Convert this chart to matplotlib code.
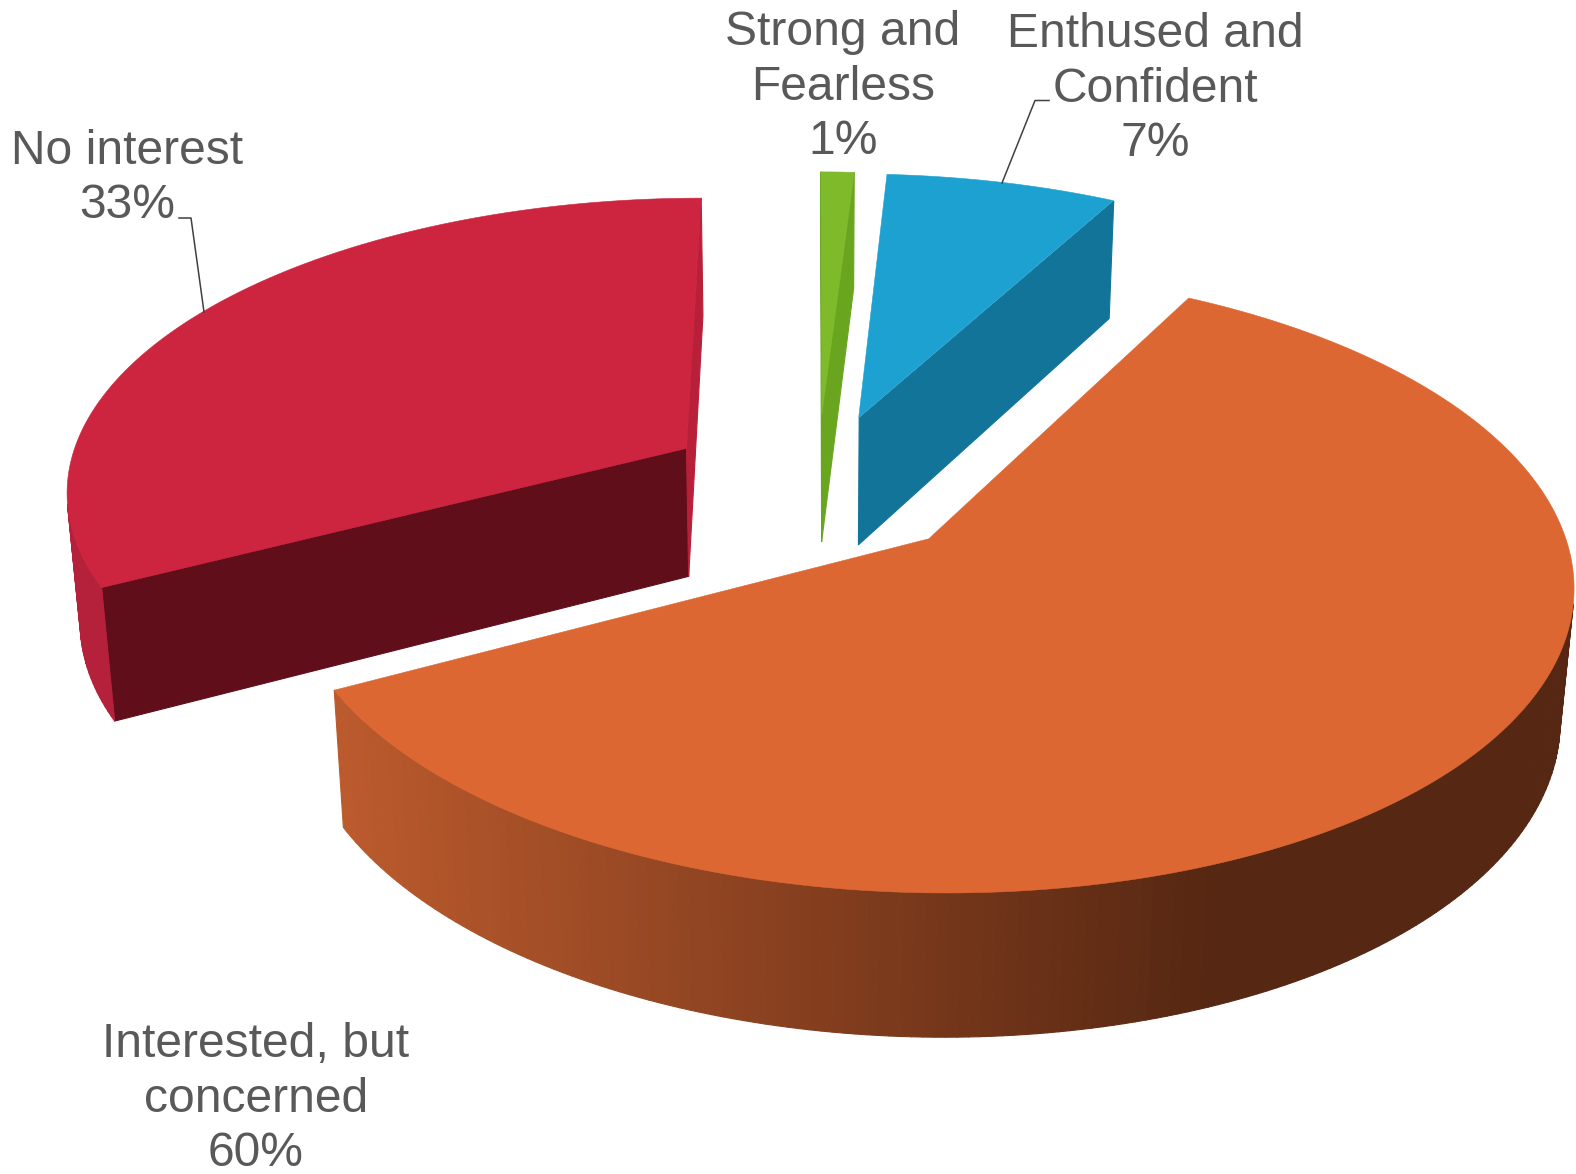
import numpy as np
import matplotlib
matplotlib.use("Agg")
import matplotlib.pyplot as plt
from matplotlib.collections import PolyCollection
from matplotlib.colors import to_rgb

# Slices listed clockwise from the top of the pie
categories = ["Enthused and\nConfident", "Interested, but\nconcerned", "No interest", "Strong and\nFearless"]
values = [7, 60, 33, 1]

top_colors = ["#1CA1D1", "#DD6733", "#CD253F", "#7FBA2B"]
cut_colors = ["#13749A", "#BB5A2C", "#600E1A", "#6AA520"]
end_colors = ["#13749A", "#BB5A2C", "#B8203A", "#6AA520"]
rim_colors = ["#13749A", None, "#B5203A", "#6AA520"]
RIM_LIGHT, RIM_DARK = "#BB5A2D", "#562712"
TEXT_COLOR = "#595959"
LEADER_COLOR = "#404040"

# Camera: a projective map from the pie's world coordinates to canvas pixels
CAM_X = (628.042, 65.1301, 817.162, 14.4886)
CAM_Y = (-15.2004, -227.915, 485.554, 140.379)
CAM_W = (0.00884168, 0.131227, 0.0178026)
ROTATION = 0.129446
EXPLODE = 0.249561

fractions = np.array(values, float) / sum(values)
starts = np.concatenate([[0.0], np.cumsum(fractions)[:-1]])


def project(x, y, z):
    w = 1 + CAM_W[0] * x + CAM_W[1] * y + CAM_W[2] * z
    u = (CAM_X[0] * x + CAM_X[1] * y + CAM_X[2] + CAM_X[3] * z) / w
    v = (CAM_Y[0] * x + CAM_Y[1] * y + CAM_Y[2] + CAM_Y[3] * z) / w
    return np.column_stack([u, v])


def slice_outline(i):
    """Apex followed by the rim samples of slice i, in world coordinates."""
    mid = 2 * np.pi * (starts[i] + fractions[i] / 2) + ROTATION
    n = max(4, int(fractions[i] * 400))
    ang = 2 * np.pi * (starts[i] + fractions[i] * np.linspace(0, 1, n)) + ROTATION
    cx, cy = EXPLODE * np.sin(mid), EXPLODE * np.cos(mid)
    x = np.r_[cx, cx + np.sin(ang)]
    y = np.r_[cy, cy + np.cos(ang)]
    return x, y


def faces_toward_viewer(quad):
    a, b = quad, np.roll(quad, -1, axis=0)
    return (a[:, 0] * b[:, 1] - b[:, 0] * a[:, 1]).sum() < 0


def rim_shade(i, u):
    if rim_colors[i] is not None:
        return to_rgb(rim_colors[i])
    t = np.clip((u - 343) / (1210 - 343), 0, 1)
    light, dark = np.array(to_rgb(RIM_LIGHT)), np.array(to_rgb(RIM_DARK))
    return tuple(light + (dark - light) * t)


fig = plt.figure(figsize=(15.76, 11.74), dpi=100)
ax = fig.add_axes([0, 0, 1, 1])
ax.set_xlim(0, 1576)
ax.set_ylim(1174, 0)
ax.axis("off")

# Back slices first, the large front slice last
for i in [3, 0, 2, 1]:
    x, y = slice_outline(i)
    top = project(x, y, 0.0)
    bottom = project(x, y, 1.0)
    n = len(top)
    quads, colours = [], []
    for k in range(n):
        m = (k + 1) % n
        quad = np.array([top[k], top[m], bottom[m], bottom[k]])
        if not faces_toward_viewer(quad):
            continue
        if k == 0:
            colour = to_rgb(cut_colors[i])
        elif k == n - 1:
            colour = to_rgb(end_colors[i])
        else:
            colour = rim_shade(i, quad[:, 0].mean())
        quads.append(quad)
        colours.append(colour)
    ax.add_collection(PolyCollection(quads, facecolors=colours, edgecolors=colours, linewidths=0.8))
    ax.fill(top[:, 0], top[:, 1], color=top_colors[i], lw=0.4)

# Leader lines from two labels to their slices
ax.plot([1002, 1035, 1049], [183, 100.5, 100.5], color=LEADER_COLOR, lw=1.1)
ax.plot([179, 191, 204], [218, 218, 312], color=LEADER_COLOR, lw=1.1)

label_xy = [(1155, 89), (256, 1099), (127, 178.5), (843, 87)]
for name, value, (lx, ly) in zip(categories, values, label_xy):
    ax.text(lx, ly, f"{name}\n{value}%", ha="center", va="center", multialignment="center",
            family="Liberation Sans", fontsize=34.6, color=TEXT_COLOR, linespacing=1.27)

fig.savefig("out.png", dpi=100)
